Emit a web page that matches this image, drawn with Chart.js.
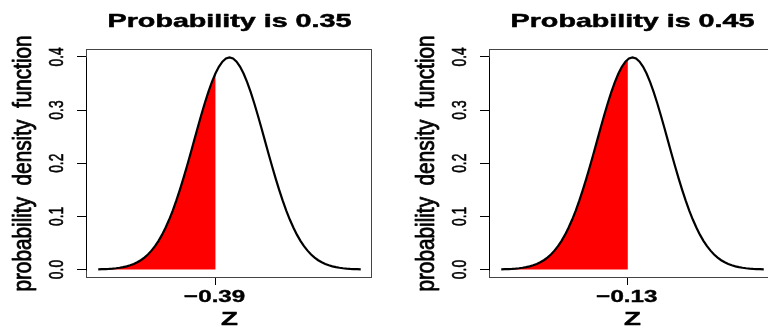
<!DOCTYPE html>
<html>
<head>
<meta charset="utf-8">
<script src="https://cdn.jsdelivr.net/npm/chart.js@4/dist/chart.umd.min.js"></script>
<style>
  html, body { margin: 0; padding: 0; background: #fff; overflow: hidden; }
  #wrap { position: relative; width: 768px; height: 328px; overflow: hidden; background: #fff; }
  #wrap canvas { position: absolute; top: 0; }
</style>
</head>
<body>
<div id="wrap">
  <canvas id="panelA" width="384" height="328" style="left:0px"></canvas>
  <canvas id="panelB" width="384" height="328" style="left:403px"></canvas>
</div>
<script>
// Standard normal curve, sampled every 0.1 on z
const zGrid = [
  -3.7, -3.6, -3.5, -3.4, -3.3, -3.2, -3.1, -3.0, -2.9, -2.8, -2.7, -2.6, -2.5,
  -2.4, -2.3, -2.2, -2.1, -2.0, -1.9, -1.8, -1.7, -1.6, -1.5, -1.4, -1.3, -1.2,
  -1.1, -1.0, -0.9, -0.8, -0.7, -0.6, -0.5, -0.4, -0.3, -0.2, -0.1, 0.0,
  0.1, 0.2, 0.3, 0.4, 0.5, 0.6, 0.7, 0.8, 0.9, 1.0, 1.1, 1.2, 1.3, 1.4, 1.5,
  1.6, 1.7, 1.8, 1.9, 2.0, 2.1, 2.2, 2.3, 2.4, 2.5, 2.6, 2.7, 2.8, 2.9, 3.0,
  3.1, 3.2, 3.3, 3.4, 3.5, 3.6, 3.7
];
const density = [
  0.0004, 0.0006, 0.0009, 0.0012, 0.0017, 0.0024, 0.0033, 0.0044, 0.0060, 0.0079,
  0.0104, 0.0136, 0.0175, 0.0224, 0.0283, 0.0355, 0.0440, 0.0540, 0.0656, 0.0790,
  0.0940, 0.1109, 0.1295, 0.1497, 0.1714, 0.1942, 0.2179, 0.2420, 0.2661, 0.2897,
  0.3123, 0.3332, 0.3521, 0.3683, 0.3814, 0.3910, 0.3970, 0.3989,
  0.3970, 0.3910, 0.3814, 0.3683, 0.3521, 0.3332, 0.3123, 0.2897, 0.2661, 0.2420,
  0.2179, 0.1942, 0.1714, 0.1497, 0.1295, 0.1109, 0.0940, 0.0790, 0.0656, 0.0540,
  0.0440, 0.0355, 0.0283, 0.0224, 0.0175, 0.0136, 0.0104, 0.0079, 0.0060, 0.0044,
  0.0033, 0.0024, 0.0017, 0.0012, 0.0009, 0.0006, 0.0004
];

// One panel per lower-tail probability
const panelTitles   = ['Probability is 0.35', 'Probability is 0.45'];
const cutoffZ       = [-0.39, -0.13];
const cutoffDensity = [0.3697, 0.3956];
const cutoffLabels  = ['\u22120.39', '\u22120.13'];

const yTickValues = [0, 0.1, 0.2, 0.3, 0.4];
const yTickLabels = ['0.0', '0.1', '0.2', '0.3', '0.4'];
const xAxisTitle = 'Z';
const yAxisTitle = 'probability density function';

const FONT = '"Liberation Sans", Arial, Helvetica, sans-serif';

// Text drawn with a stretch factor (sx) along its own direction,
// optionally outlined a little to make the strokes heavier
function drawText(ctx, text, x, y, o) {
  ctx.save();
  ctx.translate(x, y);
  if (o.rotate) ctx.rotate(o.rotate);
  ctx.scale(o.sx || 1, 1);
  ctx.font = o.font;
  if (o.wordSpacing) ctx.wordSpacing = o.wordSpacing;
  ctx.fillStyle = '#000';
  ctx.strokeStyle = '#000';
  ctx.textAlign = 'center';
  ctx.textBaseline = 'alphabetic';
  ctx.fillText(text, 0, 0);
  if (o.weight) {
    ctx.lineWidth = o.weight;
    ctx.lineJoin = 'round';
    ctx.strokeText(text, 0, 0);
  }
  ctx.restore();
}

const panelDecor = {
  id: 'panelDecor',
  afterDraw(chart, args, opts) {
    const { ctx, chartArea: a, scales: { x, y } } = chart;
    ctx.save();
    // plot frame
    ctx.strokeStyle = '#444';
    ctx.lineWidth = 1;
    ctx.strokeRect(a.left - 0.5, a.top + 0.5, a.right - a.left, a.bottom - a.top - 1);
    // y axis line between first and last tick
    ctx.strokeStyle = '#000';
    ctx.beginPath();
    ctx.moveTo(a.left - 0.5, Math.round(y.getPixelForValue(yTickValues[0])) + 0.5);
    ctx.lineTo(a.left - 0.5, Math.round(y.getPixelForValue(yTickValues[yTickValues.length - 1])) + 0.5);
    ctx.stroke();
    ctx.restore();

    const cx = (a.left + a.right) / 2;
    // title
    drawText(ctx, opts.title, cx, 27, { font: 'bold 18.5px ' + FONT, sx: 1.55, weight: 0.5 });
    // y tick labels, parallel to the axis
    yTickValues.forEach((v, i) => {
      drawText(ctx, yTickLabels[i], 62.5, y.getPixelForValue(v),
        { font: '21px ' + FONT, sx: 0.66, rotate: -Math.PI / 2, weight: 0.6 });
    });
    // y axis title
    drawText(ctx, yAxisTitle, 31, (a.top + a.bottom) / 2,
      { font: '25px ' + FONT, sx: 0.83, rotate: -Math.PI / 2, weight: 0.8, wordSpacing: '7px' });
    // x tick label at the cutoff
    drawText(ctx, opts.cutLabel, x.getPixelForValue(opts.cut) - 1, 302,
      { font: 'bold 17px ' + FONT, sx: 1.42, weight: 0.4 });
    // x axis title
    drawText(ctx, xAxisTitle, cx, 325, { font: 'bold 18.6px ' + FONT, sx: 1.49, weight: 0.4 });
  }
};

function buildPanel(canvasId, idx) {
  const cut = cutoffZ[idx];
  const curve = zGrid.map((z, i) => ({ x: z, y: density[i] }));
  const shaded = curve.filter(p => p.x < cut);
  shaded.push({ x: cut, y: cutoffDensity[idx] });

  return new Chart(document.getElementById(canvasId), {
    type: 'line',
    data: {
      datasets: [
        {
          data: curve,
          borderColor: '#000',
          borderWidth: 2.2,
          pointRadius: 0,
          fill: false,
          tension: 0
        },
        {
          data: shaded,
          borderWidth: 0,
          borderColor: 'rgba(0,0,0,0)',
          backgroundColor: '#ff0000',
          pointRadius: 0,
          fill: 'origin',
          tension: 0
        }
      ]
    },
    options: {
      responsive: false,
      animation: false,
      devicePixelRatio: 1,
      layout: { padding: { left: 0, top: 49, right: 12, bottom: 0 } },
      plugins: {
        legend: { display: false },
        tooltip: { enabled: false },
        title: { display: false },
        panelDecor: { title: panelTitles[idx], cut: cut, cutLabel: cutoffLabels[idx] }
      },
      scales: {
        x: {
          type: 'linear',
          min: -4.017,
          max: 4.017,
          afterBuildTicks: s => { s.ticks = [{ value: cut }]; },
          afterFit: s => { s.height = 50; },
          ticks: { display: false },
          grid: { display: true, drawOnChartArea: false, drawTicks: true, tickLength: 7, color: '#000', lineWidth: 1 },
          border: { display: false }
        },
        y: {
          type: 'linear',
          min: -0.01596,
          max: 0.41485,
          afterBuildTicks: s => { s.ticks = yTickValues.map(v => ({ value: v })); },
          afterFit: s => { s.width = 87; },
          ticks: { display: false },
          grid: { display: true, drawOnChartArea: false, drawTicks: true, tickLength: 10, color: '#000', lineWidth: 1 },
          border: { display: false }
        }
      }
    },
    plugins: [panelDecor]
  });
}

buildPanel('panelA', 0);
buildPanel('panelB', 1);
</script>
</body>
</html>
